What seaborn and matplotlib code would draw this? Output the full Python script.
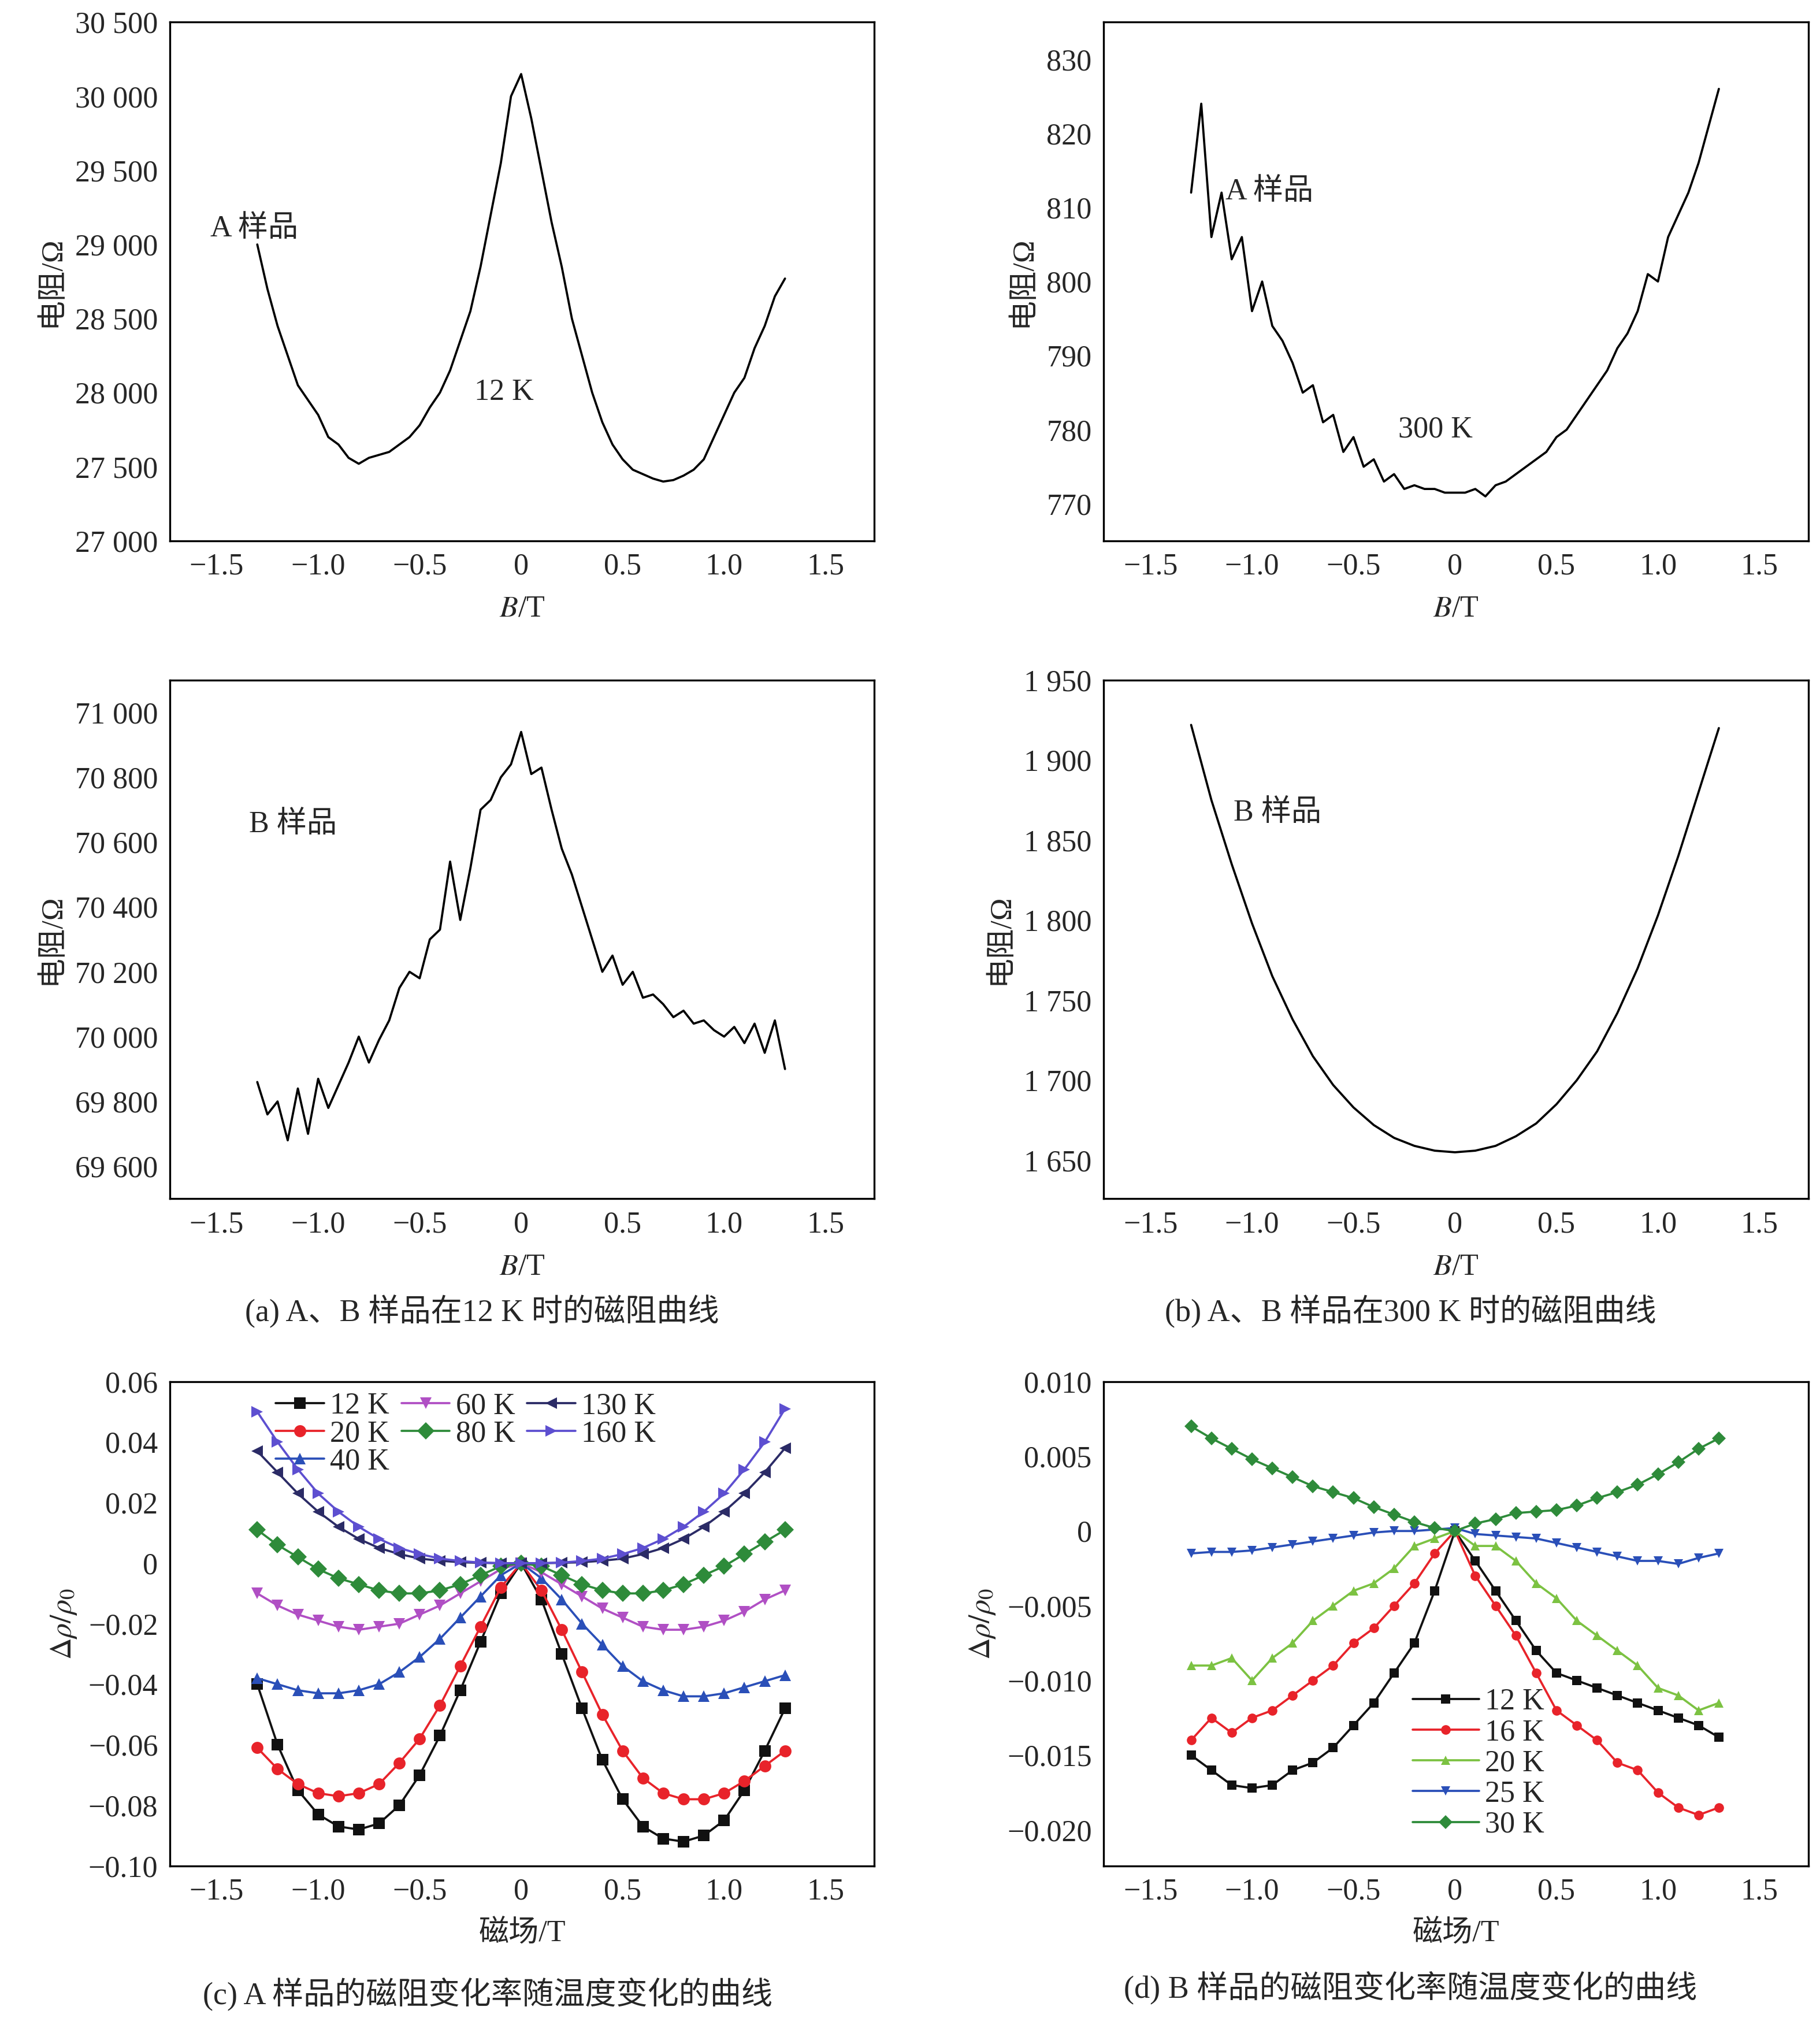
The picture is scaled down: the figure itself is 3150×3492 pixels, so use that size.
import matplotlib
matplotlib.use("Agg")
import matplotlib.pyplot as plt
import seaborn as sns
import pandas as pd
from matplotlib.ticker import FuncFormatter, FixedLocator

sns.set_theme(style="white")
plt.rcParams['font.family'] = ['Liberation Serif', 'Noto Sans CJK SC', 'DejaVu Sans']
plt.rcParams['mathtext.fontset'] = 'stix'
plt.rcParams['axes.unicode_minus'] = True

X53 = [-1.30,-1.25,-1.20,-1.15,-1.10,-1.05,-1.00,-0.95,-0.90,-0.85,-0.80,-0.75,-0.70,-0.65,-0.60,-0.55,-0.50,
       -0.45,-0.40,-0.35,-0.30,-0.25,-0.20,-0.15,-0.10,-0.05,0.00,0.05,0.10,0.15,0.20,0.25,0.30,0.35,0.40,0.45,
       0.50,0.55,0.60,0.65,0.70,0.75,0.80,0.85,0.90,0.95,1.00,1.05,1.10,1.15,1.20,1.25,1.30]
X27 = [-1.3,-1.2,-1.1,-1.0,-0.9,-0.8,-0.7,-0.6,-0.5,-0.4,-0.3,-0.2,-0.1,0.0,0.1,0.2,0.3,0.4,0.5,0.6,0.7,0.8,0.9,1.0,1.1,1.2,1.3]

A12 = [29000,28700,28450,28250,28050,27950,27850,27700,27650,27560,27520,27560,27580,27600,27650,27700,27780,27900,28000,28150,
       28350,28550,28850,29200,29550,30000,30150,29850,29500,29150,28850,28500,28250,28000,27800,27650,27550,27480,27450,27420,
       27400,27410,27440,27480,27550,27700,27850,28000,28100,28300,28450,28650,28770]
A300 = [812,824,806,812,803,806,796,800,794,792,789,785,786,781,782,777,779,775,776,773,774,772,772.5,772,772,771.5,771.5,771.5,772,771,
        772.5,773,774,775,776,777,779,780,782,784,786,788,791,793,796,801,800,806,809,812,816,821,826]
B12 = [69860,69760,69800,69680,69840,69700,69870,69780,69850,69920,70000,69920,69990,70050,70150,70200,70180,70300,70330,70540,
       70360,70520,70700,70730,70800,70840,70940,70810,70830,70700,70580,70500,70400,70300,70200,70250,70160,70200,70120,70130,
       70100,70060,70080,70040,70050,70020,70000,70030,69980,70040,69950,70050,69900]
B300 = [1922,1875,1835,1798,1765,1738,1715,1697,1683,1672,1664,1659,1656,1655,1656,1659,1665,1673,1685,1700,1718,1742,1770,1803,1840,1880,1920]

C_labels = ["12 K","20 K","40 K","60 K","80 K","130 K","160 K"]
C_vals = [
 [-0.040,-0.060,-0.075,-0.083,-0.087,-0.088,-0.086,-0.080,-0.070,-0.057,-0.042,-0.026,-0.010,0,-0.012,-0.030,-0.048,-0.065,-0.078,-0.087,-0.091,-0.092,-0.090,-0.085,-0.075,-0.062,-0.048],
 [-0.061,-0.068,-0.073,-0.076,-0.077,-0.076,-0.073,-0.066,-0.058,-0.047,-0.034,-0.021,-0.008,0,-0.009,-0.022,-0.036,-0.050,-0.062,-0.071,-0.076,-0.078,-0.078,-0.076,-0.072,-0.067,-0.062],
 [-0.038,-0.040,-0.042,-0.043,-0.043,-0.042,-0.040,-0.036,-0.031,-0.025,-0.018,-0.011,-0.004,0,-0.005,-0.012,-0.020,-0.027,-0.034,-0.039,-0.042,-0.044,-0.044,-0.043,-0.041,-0.039,-0.037],
 [-0.010,-0.014,-0.017,-0.019,-0.021,-0.022,-0.021,-0.020,-0.017,-0.014,-0.010,-0.006,-0.002,0,-0.003,-0.007,-0.011,-0.015,-0.018,-0.021,-0.022,-0.022,-0.021,-0.019,-0.016,-0.012,-0.009],
 [0.011,0.006,0.002,-0.002,-0.005,-0.007,-0.009,-0.010,-0.010,-0.009,-0.007,-0.004,-0.001,0,-0.001,-0.004,-0.007,-0.009,-0.010,-0.010,-0.009,-0.007,-0.004,-0.001,0.003,0.007,0.011],
 [0.037,0.030,0.023,0.017,0.012,0.008,0.005,0.003,0.0015,0.0008,0.0003,0.0001,0,0,0,0.0001,0.0003,0.0008,0.0015,0.003,0.005,0.008,0.012,0.017,0.023,0.030,0.038],
 [0.050,0.040,0.031,0.023,0.017,0.012,0.008,0.005,0.003,0.0015,0.0007,0.0002,0,0,0,0.0002,0.0007,0.0015,0.003,0.005,0.008,0.012,0.017,0.023,0.031,0.040,0.051],
]
C_colors = ["#111111","#e8232a","#2a4fb8","#b04fc4","#2e8b3a","#2b2b66","#5d4fd0"]
C_markers = ["s","o","^","v","D","<",">"]

D_labels = ["12 K","16 K","20 K","25 K","30 K"]
D_vals = [
 [-0.015,-0.016,-0.017,-0.0172,-0.017,-0.016,-0.0155,-0.0145,-0.013,-0.0115,-0.0095,-0.0075,-0.004,0,-0.002,-0.004,-0.006,-0.008,-0.0095,-0.010,-0.0105,-0.011,-0.0115,-0.012,-0.0125,-0.013,-0.0138],
 [-0.014,-0.0125,-0.0135,-0.0125,-0.012,-0.011,-0.010,-0.009,-0.0075,-0.0065,-0.005,-0.0035,-0.0015,0,-0.003,-0.005,-0.007,-0.0095,-0.012,-0.013,-0.014,-0.0155,-0.016,-0.0175,-0.0185,-0.019,-0.0185],
 [-0.009,-0.009,-0.0085,-0.010,-0.0085,-0.0075,-0.006,-0.005,-0.004,-0.0035,-0.0025,-0.001,-0.0005,0,-0.001,-0.001,-0.002,-0.0035,-0.0045,-0.006,-0.007,-0.008,-0.009,-0.0105,-0.011,-0.012,-0.0115],
 [-0.0015,-0.0014,-0.0014,-0.0013,-0.0011,-0.0009,-0.0007,-0.0005,-0.0003,-0.0001,0,0,0.0001,0.0002,-0.0002,-0.0003,-0.0004,-0.0005,-0.0008,-0.0011,-0.0014,-0.0017,-0.002,-0.002,-0.0022,-0.0018,-0.0015],
 [0.007,0.0062,0.0055,0.0048,0.0042,0.0036,0.003,0.0026,0.0022,0.0016,0.0011,0.0006,0.0002,0,0.0005,0.0008,0.0012,0.0013,0.0014,0.0017,0.0022,0.0026,0.0031,0.0038,0.0046,0.0055,0.0062],
]
D_colors = ["#111111","#e8232a","#7cc242","#2a4fb8","#2e8b3a"]
D_markers = ["s","o","^","v","D"]

FS = 12.5
fig = plt.figure(figsize=(10.5, 11.64), dpi=300)
W = 0.387
pos = {
 "a1": [0.0934, 0.732, W, 0.257], "b1": [0.6065, 0.732, W, 0.257],
 "a2": [0.0934, 0.406, W, 0.257], "b2": [0.6065, 0.406, W, 0.257],
 "c": [0.0934, 0.0754, W, 0.240], "d": [0.6065, 0.0754, W, 0.240],
}
def sep(v, p):
    s = f"{int(round(v)):,}".replace(",", " ")
    return s.replace("-", "\u2212")
def dec(nd):
    def f(v, p):
        if abs(v) < 1e-12: return "0"
        return f"{v:.{nd}f}".replace("-", "\u2212")
    return f
def xfmt(v, p):
    if abs(v) < 1e-12: return "0"
    return f"{v:.1f}".replace("-", "\u2212")

def style(ax, ylim, yticks, yfmt, xlabel, ylabel):
    ax.set_xlim(-1.73, 1.74)
    ax.set_ylim(*ylim)
    ax.xaxis.set_major_locator(FixedLocator([-1.5,-1.0,-0.5,0,0.5,1.0,1.5]))
    ax.xaxis.set_major_formatter(FuncFormatter(xfmt))
    ax.yaxis.set_major_locator(FixedLocator(yticks))
    ax.yaxis.set_major_formatter(FuncFormatter(yfmt))
    ax.tick_params(labelsize=FS, direction="out", length=0, pad=5)
    for s in ax.spines.values():
        s.set_color("black"); s.set_linewidth(0.8)
    ax.set_xlabel(xlabel, fontsize=FS, labelpad=6)
    ax.set_ylabel(ylabel, fontsize=FS)

def line(ax, x, y):
    sns.lineplot(x=x, y=y, ax=ax, color="black", linewidth=0.9, estimator=None, sort=False)

ax = fig.add_axes(pos["a1"]); line(ax, X53, A12)
style(ax, (27000, 30500), list(range(27000, 30501, 500)), sep, "$B$/T", "电阻/Ω")
ax.text(-1.53, 29050, "A 样品", fontsize=FS); ax.text(-0.23, 27950, "12 K", fontsize=FS)

ax = fig.add_axes(pos["b1"]); line(ax, X53, A300)
style(ax, (765, 835), list(range(770, 831, 10)), sep, "$B$/T", "电阻/Ω")
ax.text(-1.13, 811, "A 样品", fontsize=FS); ax.text(-0.28, 779, "300 K", fontsize=FS)

ax = fig.add_axes(pos["a2"]); line(ax, X53, B12)
style(ax, (69500, 71100), list(range(69600, 71001, 200)), sep, "$B$/T", "电阻/Ω")
ax.text(-1.34, 70630, "B 样品", fontsize=FS)

ax = fig.add_axes(pos["b2"]); line(ax, X27, B300)
style(ax, (1626, 1950), list(range(1650, 1951, 50)), sep, "$B$/T", "电阻/Ω")
ax.text(-1.09, 1862, "B 样品", fontsize=FS)

ax = fig.add_axes(pos["c"])
for lab, v, c, m in zip(C_labels, C_vals, C_colors, C_markers):
    sns.lineplot(x=X27, y=v, ax=ax, color=c, marker=m, markersize=5, markeredgewidth=0,
                 linewidth=0.9, label=lab, estimator=None, sort=False)
style(ax, (-0.10, 0.06), [-0.10,-0.08,-0.06,-0.04,-0.02,0,0.02,0.04,0.06], dec(2), "磁场/T", r"$\Delta\rho/\rho_0$")
ax.legend(ncol=3, loc="upper center", bbox_to_anchor=(0.42, 1.015), frameon=False, fontsize=FS,
          handlelength=1.6, handletextpad=0.2, columnspacing=0.4, labelspacing=0.0, borderaxespad=0.2)

ax = fig.add_axes(pos["d"])
for lab, v, c, m in zip(D_labels, D_vals, D_colors, D_markers):
    sns.lineplot(x=X27, y=v, ax=ax, color=c, marker=m, markersize=4, markeredgewidth=0,
                 linewidth=0.9, label=lab, estimator=None, sort=False)
style(ax, (-0.0224, 0.010), [-0.020,-0.015,-0.010,-0.005,0,0.005,0.010], dec(3), "磁场/T", r"$\Delta\rho/\rho_0$")
ax.legend(loc="lower left", bbox_to_anchor=(0.4, 0.0), frameon=False, fontsize=FS,
          handlelength=2.2, handletextpad=0.2, labelspacing=0.1)

cap = dict(ha="center", va="center", fontsize=FS+0.5)
fig.text(0.2650, 0.350, "(a) A、B 样品在12 K 时的磁阻曲线", **cap)
fig.text(0.7750, 0.350, "(b) A、B 样品在300 K 时的磁阻曲线", **cap)
fig.text(0.2680, 0.012, "(c) A 样品的磁阻变化率随温度变化的曲线", **cap)
fig.text(0.7750, 0.015, "(d) B 样品的磁阻变化率随温度变化的曲线", **cap)

fig.savefig("out.png", dpi=300, facecolor="white")
